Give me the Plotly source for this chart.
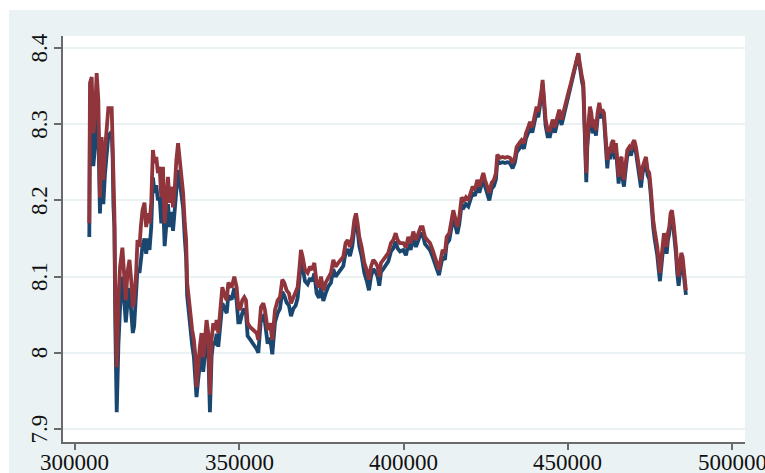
import plotly.graph_objects as go

# observation index
obs = [
    304350, 304560, 305080, 305570, 306080, 306590, 307100, 307600, 308110, 308620,
    309130, 309640, 310150, 311170, 311470, 311680, 311990, 312290, 312700, 313210,
    313720, 314430, 314940, 315460, 315970, 316580, 317090, 317600, 318000, 318610,
    319020, 319630, 320030, 320540, 321150, 321660, 322170, 322680, 323200, 323710,
    324220, 324730, 325240, 325750, 326260, 326770, 327280, 327790, 328300, 328810,
    329320, 329830, 330340, 330850, 331370, 331880, 332390, 332900, 333410, 333820,
    334130, 334640, 335150, 335660, 336170, 336680, 336980, 337490, 338000, 338510,
    339020, 339530, 340040, 340550, 341060, 341570, 342080, 342590, 343100, 343610,
    344120, 344840, 345350, 346170,
    346660, 347670, 348480, 349195, 349700, 350210, 350920, 351530, 352035, 352540,
    353250, 354270, 355280, 355790, 356600, 357310, 357820, 358630, 359340, 360050,
    360860, 361670, 362380, 363090, 363700, 364410, 365120, 365730, 366440, 367150,
    367760, 368265, 368770, 369280, 369990, 370800, 371510, 372220, 372830, 373540,
    374250, 374860, 375570, 376280, 377090, 377900, 378610, 379320, 380130, 380940,
    381650, 382360, 382970, 383680, 384390, 385000, 385510, 386010, 386520, 387230,
    388040, 388750, 389460, 390070, 390780, 391490, 392100, 392610, 393115, 393825,
    394535, 395345, 396155, 396870, 397580, 398185, 398900, 399605,
    399910, 400720, 401430, 402140, 402955, 403765, 404475, 405185, 405795, 406505,
    407215, 408025, 408840, 409550, 410260, 410765, 411270, 411880, 412590, 413100,
    413910, 414620, 415125, 415635, 416345, 416950, 417660, 418375, 418980, 419690,
    420400, 421010, 421720, 422430, 423040, 423750, 424255, 424760, 425470, 426080,
    426790, 427500, 428110, 428515, 429330, 430140, 430850, 431560, 432370, 433180,
    433890, 434400, 435210, 435920, 436630, 437240, 437950, 438455, 439165, 439775,
    440485, 440990, 441500, 442005, 442310, 442715, 443220, 443830,
    444540, 445355, 446065, 446775, 447380, 448093, 448600, 449107, 449615, 450120,
    450630, 451135, 451643, 452150, 452657, 453165, 453470, 453875, 454280, 454685,
    454990, 455295, 455600, 455903, 456310, 456715, 457120, 457525, 458035, 458540,
    459050, 459555, 460060, 460470, 460975, 461280, 461585, 461990, 462395, 462800,
    463310, 463815, 464220, 464625, 465030, 465440, 465845, 466350, 466655, 467060,
    467465, 468075, 468680, 469190, 469700, 470205, 470710, 471220, 471725, 472234,
    472740, 473245, 473755, 474260, 474770, 475175, 475580, 475985, 476390, 476800,
    477205, 477610, 478015, 478420, 478825, 479230, 479640, 480045, 480450, 480855,
    481260, 481665, 482070, 482480, 482885, 483290, 483695, 484100, 484505, 484910,
    485318, 485620, 485925,
]

# first series (navy)
series1 = [
    8.152, 8.300, 8.320, 8.245, 8.270, 8.320, 8.290, 8.183, 8.250, 8.195,
    8.235, 8.255, 8.285, 8.290, 8.255, 8.195, 8.165, 8.030, 7.922, 8.010,
    8.060, 8.100, 8.060, 8.040, 8.065, 8.085, 8.055, 8.026, 8.035, 8.075,
    8.110, 8.105, 8.125, 8.140, 8.150, 8.130, 8.150, 8.135, 8.165, 8.230,
    8.210, 8.220, 8.200, 8.205, 8.170, 8.205, 8.140, 8.165, 8.195, 8.165,
    8.185, 8.160, 8.185, 8.220, 8.240, 8.225, 8.210, 8.190, 8.150, 8.125,
    8.075, 8.050, 8.035, 8.010, 7.995, 7.970, 7.942, 7.965, 7.985, 8.005,
    7.975, 7.995, 8.020, 8.005, 7.922, 7.995, 8.015, 8.010, 8.025, 8.008,
    8.030, 8.065, 8.060, 8.052,
    8.075, 8.070, 8.085, 8.068, 8.040, 8.040, 8.052, 8.058, 8.052, 8.022,
    8.018, 8.012, 8.005, 8.000, 8.045, 8.048, 8.040, 8.012, 8.020, 7.998,
    8.040, 8.052, 8.058, 8.080, 8.075, 8.066, 8.062, 8.048, 8.058, 8.062,
    8.072, 8.095, 8.122, 8.112, 8.094, 8.090, 8.098, 8.094, 8.104, 8.078,
    8.072, 8.086, 8.068, 8.078, 8.087, 8.092, 8.110, 8.100, 8.105, 8.110,
    8.114, 8.132, 8.136, 8.127, 8.140, 8.163, 8.172, 8.160, 8.140, 8.127,
    8.105, 8.095, 8.082, 8.100, 8.110, 8.106, 8.100, 8.088, 8.106, 8.110,
    8.115, 8.120, 8.133, 8.137, 8.146, 8.137, 8.133, 8.134,
    8.135, 8.128, 8.143, 8.135, 8.150, 8.139, 8.148, 8.156, 8.156, 8.143,
    8.139, 8.135, 8.126, 8.117, 8.109, 8.102, 8.113, 8.126, 8.122, 8.143,
    8.148, 8.165, 8.178, 8.169, 8.156, 8.169, 8.195, 8.191, 8.195, 8.192,
    8.202, 8.210, 8.206, 8.219, 8.210, 8.223, 8.228, 8.219, 8.210, 8.200,
    8.215, 8.219, 8.228, 8.252, 8.249, 8.250, 8.249, 8.250, 8.249, 8.242,
    8.250, 8.263, 8.268, 8.272, 8.268, 8.281, 8.289, 8.296, 8.289, 8.302,
    8.316, 8.309, 8.321, 8.339, 8.353, 8.321, 8.298, 8.284,
    8.284, 8.299, 8.289, 8.302, 8.312, 8.299, 8.308, 8.321, 8.326, 8.335,
    8.343, 8.352, 8.361, 8.370, 8.382, 8.392, 8.380, 8.362, 8.356, 8.348,
    8.316, 8.284, 8.224, 8.270, 8.295, 8.316, 8.308, 8.288, 8.299, 8.285,
    8.308, 8.321, 8.308, 8.312, 8.308, 8.284, 8.270, 8.242, 8.262, 8.254,
    8.268, 8.272, 8.254, 8.268, 8.245, 8.222, 8.245, 8.250, 8.228, 8.218,
    8.236, 8.259, 8.263, 8.259, 8.268, 8.272, 8.263, 8.250, 8.236, 8.217,
    8.236, 8.242, 8.250, 8.233, 8.228, 8.210, 8.182, 8.164, 8.150, 8.141,
    8.128, 8.110, 8.094, 8.112, 8.135, 8.148, 8.139, 8.130, 8.148, 8.157,
    8.175, 8.180, 8.166, 8.152, 8.130, 8.104, 8.088, 8.104, 8.122, 8.117,
    8.099, 8.078, 8.076,
]

# second series (maroon)
series2 = [
    8.170, 8.354, 8.362, 8.288, 8.310, 8.367, 8.332, 8.204, 8.283, 8.227,
    8.266, 8.288, 8.321, 8.321, 8.279, 8.210, 8.183, 8.060, 7.981, 8.069,
    8.113, 8.138, 8.105, 8.069, 8.105, 8.122, 8.096, 8.060, 8.069, 8.105,
    8.148, 8.139, 8.165, 8.187, 8.197, 8.165, 8.183, 8.170, 8.197, 8.266,
    8.249, 8.257, 8.236, 8.244, 8.204, 8.244, 8.170, 8.201, 8.231, 8.197,
    8.218, 8.191, 8.214, 8.253, 8.275, 8.253, 8.236, 8.210, 8.170, 8.148,
    8.092, 8.069, 8.052, 8.030, 8.017, 7.994, 7.955, 7.990, 8.008, 8.026,
    7.994, 8.017, 8.043, 8.026, 7.945, 8.017, 8.039, 8.030, 8.043, 8.026,
    8.047, 8.086, 8.078, 8.069,
    8.092, 8.086, 8.100, 8.086, 8.060, 8.056, 8.069, 8.073, 8.069, 8.039,
    8.034, 8.030, 8.026, 8.017, 8.060, 8.065, 8.056, 8.030, 8.039, 8.017,
    8.056, 8.069, 8.073, 8.096, 8.092, 8.082, 8.078, 8.065, 8.073, 8.078,
    8.086, 8.109, 8.135, 8.126, 8.109, 8.105, 8.113, 8.109, 8.118, 8.092,
    8.086, 8.100, 8.082, 8.092, 8.100, 8.105, 8.122, 8.113, 8.118, 8.122,
    8.126, 8.144, 8.148, 8.139, 8.152, 8.174, 8.183, 8.170, 8.152, 8.139,
    8.118, 8.109, 8.096, 8.113, 8.122, 8.118, 8.113, 8.100, 8.118, 8.122,
    8.126, 8.131, 8.144, 8.148, 8.157, 8.148, 8.144, 8.144,
    8.144, 8.138, 8.152, 8.144, 8.159, 8.148, 8.157, 8.165, 8.165, 8.152,
    8.148, 8.144, 8.135, 8.126, 8.118, 8.109, 8.122, 8.135, 8.131, 8.152,
    8.157, 8.174, 8.187, 8.178, 8.165, 8.178, 8.204, 8.200, 8.204, 8.200,
    8.210, 8.218, 8.214, 8.227, 8.218, 8.231, 8.236, 8.227, 8.218, 8.210,
    8.223, 8.227, 8.236, 8.260, 8.256, 8.257, 8.256, 8.257, 8.256, 8.249,
    8.257, 8.270, 8.275, 8.279, 8.275, 8.288, 8.296, 8.303, 8.296, 8.309,
    8.323, 8.316, 8.328, 8.345, 8.358, 8.328, 8.306, 8.292,
    8.292, 8.306, 8.296, 8.309, 8.319, 8.306, 8.315, 8.328, 8.332, 8.341,
    8.349, 8.358, 8.367, 8.375, 8.387, 8.393, 8.384, 8.367, 8.362, 8.354,
    8.323, 8.292, 8.236, 8.279, 8.302, 8.323, 8.315, 8.296, 8.306, 8.292,
    8.315, 8.328, 8.315, 8.319, 8.315, 8.292, 8.279, 8.253, 8.270, 8.262,
    8.275, 8.279, 8.262, 8.275, 8.253, 8.231, 8.253, 8.257, 8.236, 8.227,
    8.244, 8.266, 8.270, 8.266, 8.275, 8.279, 8.270, 8.257, 8.244, 8.227,
    8.244, 8.249, 8.257, 8.240, 8.236, 8.218, 8.191, 8.174, 8.161, 8.152,
    8.139, 8.122, 8.105, 8.122, 8.144, 8.157, 8.148, 8.139, 8.157, 8.165,
    8.183, 8.187, 8.174, 8.161, 8.139, 8.113, 8.100, 8.113, 8.131, 8.126,
    8.109, 8.086, 8.082,
]

x_ticks = [300000, 350000, 400000, 450000, 500000]
x_ticktext = ["300000", "350000", "400000", "450000", "500000"]
y_ticks = [7.9, 8.0, 8.1, 8.2, 8.3, 8.4]
y_ticktext = ["7.9", "8", "8.1", "8.2", "8.3", "8.4"]

NAVY = "#1A476F"
MAROON = "#90353B"
REGION = "#EAF2F3"
AXIS = "#6A6A6A"
LABEL = dict(family="Liberation Serif", size=23, color="#111111")

fig = go.Figure()
fig.add_trace(go.Scatter(x=obs, y=series1, mode="lines",
                         line=dict(color=NAVY, width=3.8), showlegend=False))
fig.add_trace(go.Scatter(x=obs, y=series2, mode="lines",
                         line=dict(color=MAROON, width=3.8), showlegend=False))

axis_common = dict(
    showline=True, linecolor=AXIS, linewidth=1.5,
    ticks="outside", tickcolor=AXIS, tickwidth=1.5,
    zeroline=False, automargin=False, showticklabels=False,
)

# tick labels placed tight against the ticks
x_labels = [
    dict(x=v, y=0, xref="x", yref="paper", text=t, showarrow=False,
         xanchor="center", yanchor="top", yshift=-7, borderpad=0, font=LABEL)
    for v, t in zip(x_ticks, x_ticktext)
]
y_labels = [
    dict(x=0, y=v, xref="paper", yref="y", text=t, showarrow=False, textangle=-90,
         xanchor="right", yanchor="middle", xshift=-10, borderpad=0, font=LABEL)
    for v, t in zip(y_ticks, y_ticktext)
]

fig.update_layout(
    width=765, height=473,
    margin=dict(l=63, r=20, t=36, b=31),
    paper_bgcolor=REGION,
    plot_bgcolor="white",
    xaxis=dict(range=[296350, 503900], tickvals=x_ticks,
               showgrid=False, ticklen=6, **axis_common),
    yaxis=dict(range=[7.883, 8.4157], tickvals=y_ticks, showgrid=True,
               gridcolor=REGION, gridwidth=1.5, ticklen=7, **axis_common),
    annotations=x_labels + y_labels,
    shapes=[
        # white border strips around the graph region
        dict(type="rect", xref="paper", yref="paper", x0=-0.2, x1=1.2,
             y0=1.064, y1=1.2, fillcolor="white", line=dict(width=0), layer="below"),
        dict(type="rect", xref="paper", yref="paper", x0=-0.2, x1=-0.0792,
             y0=-0.2, y1=1.2, fillcolor="white", line=dict(width=0), layer="below"),
    ],
)

fig.write_html("out.html")
